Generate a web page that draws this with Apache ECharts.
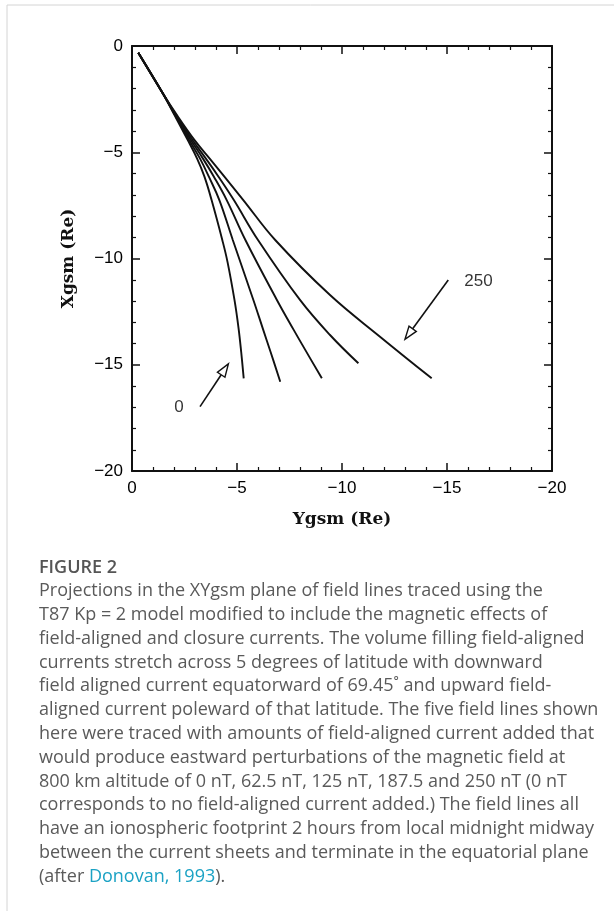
<!DOCTYPE html>
<html>
<head>
<meta charset="utf-8">
<script src="https://cdn.jsdelivr.net/npm/echarts@6/dist/echarts.min.js"></script>
<style>
    html, body { margin: 0; padding: 0; background: #fff; }
    #chart { width: 614px; height: 911px; }
</style>
</head>
<body>
<div id="chart"></div>
<script>
// field lines, points are [Ygsm, Xgsm] in Re
const curveNames = ['0 nT', '62.5 nT', '125 nT', '187.5 nT', '250 nT'];
const commonStart = [[-0.3, -0.32], [-1.45, -2.2]];
const curve0 = [[-2.05, -3.3], [-2.65, -4.42], [-3.1, -5.3], [-3.45, -6.15], [-3.79, -7.25], [-4.3, -9.13], [-4.55, -10.17], [-4.88, -11.95], [-5.07, -13.25], [-5.2, -14.4], [-5.32, -15.64]];
const curve1 = [[-2.08, -3.3], [-2.72, -4.42], [-3.24, -5.3], [-3.66, -6.15], [-4.16, -7.25], [-4.8, -9.13], [-5.78, -11.95], [-6.25, -13.36], [-6.6, -14.4], [-7.06, -15.8]];
const curve2 = [[-2.1, -3.3], [-2.8, -4.42], [-3.38, -5.3], [-3.9, -6.15], [-4.51, -7.25], [-5.4, -9.13], [-6.9, -11.95], [-7.7, -13.36], [-8.25, -14.3], [-9.04, -15.64]];
const curve3 = [[-2.13, -3.3], [-2.88, -4.42], [-3.52, -5.3], [-4.12, -6.15], [-4.85, -7.25], [-6.0, -9.13], [-8.0, -11.95], [-9.43, -13.6], [-10.78, -14.93]];
const curve4 = [[-2.17, -3.3], [-2.97, -4.42], [-3.7, -5.3], [-4.4, -6.15], [-5.3, -7.25], [-6.82, -9.13], [-9.43, -11.72], [-11.81, -13.68], [-14.27, -15.64]];
const curves = [curve0, curve1, curve2, curve3, curve4];

// annotation arrows (tail -> head) and their labels
const arrowTail = [[-3.24, -16.97], [-15.06, -11.01]];
const arrowHead = [[-4.59, -14.96], [-13.0, -13.8]];
const arrowLabels = ['0', '250'];
const arrowLabelPos = [[-2.24, -17.0], [-16.5, -11.06]];

const axisTicks = [0, -5, -10, -15, -20];

const caption = [
    'Projections in the XYgsm plane of field lines traced using the',
    'T87 Kp = 2 model modified to include the magnetic effects of',
    'field-aligned and closure currents. The volume filling field-aligned',
    'currents stretch across 5 degrees of latitude with downward',
    'field aligned current equatorward of 69.45\u02da and upward field-',
    'aligned current poleward of that latitude. The five field lines shown',
    'here were traced with amounts of field-aligned current added that',
    'would produce eastward perturbations of the magnetic field at',
    '800 km altitude of 0 nT, 62.5 nT, 125 nT, 187.5 and 250 nT (0 nT',
    'corresponds to no field-aligned current added.) The field lines all',
    'have an ionospheric footprint 2 hours from local midnight midway',
    'between the current sheets and terminate in the equatorial plane'
];

const chart = echarts.init(document.getElementById('chart'));

function tickLabel(v) {
    return v === 0 ? '0' : '\u2212' + Math.abs(v);
}

const labelFont = { fontFamily: 'Liberation Sans', fontSize: 17, color: '#000' };
const nameFont = { fontFamily: 'DejaVu Serif', fontWeight: 'bold', fontSize: 17, color: '#111' };
const capFont = 'Open Sans';
const capSize = 18;

function makeAxis(extra) {
    return Object.assign({
        type: 'value',
        min: axisTicks[axisTicks.length - 1],
        max: axisTicks[0],
        interval: 5,
        axisLine: { show: true, onZero: false, lineStyle: { color: '#111', width: 2 } },
        axisTick: { show: true, inside: true, length: 8, lineStyle: { color: '#111', width: 1.5 } },
        minorTick: { show: true, splitNumber: 5, length: 4, lineStyle: { color: '#111', width: 1.2 } },
        splitLine: { show: false },
        axisLabel: Object.assign({ formatter: tickLabel, margin: 9 }, labelFont)
    }, extra);
}

const lineSeries = curves.map((c, i) => ({
    name: curveNames[i],
    type: 'line',
    data: commonStart.concat(c),
    showSymbol: false,
    smooth: 0.4,
    lineStyle: { color: '#111', width: 1.9 },
    z: 3
}));

const option = {
    backgroundColor: '#fff',
    animation: false,
    grid: { left: 132, top: 46, width: 420, height: 425 },
    xAxis: [
        makeAxis({ position: 'bottom', inverse: true, name: 'Ygsm (Re)', nameLocation: 'middle', nameGap: 40, nameTextStyle: nameFont }),
        makeAxis({ position: 'top', inverse: true, axisLabel: { show: false } })
    ],
    yAxis: [
        makeAxis({ position: 'left', name: 'Xgsm (Re)', nameLocation: 'middle', nameRotate: 90, nameGap: 55, nameTextStyle: nameFont }),
        makeAxis({ position: 'right', axisLabel: { show: false } })
    ],
    series: lineSeries.concat([
        {
            type: 'custom',
            data: arrowTail.map((t, i) => [t[0], t[1], arrowHead[i][0], arrowHead[i][1]]),
            encode: { x: [0, 2], y: [1, 3] },
            renderItem: function (params, api) {
                const p0 = api.coord([api.value(0), api.value(1)]);
                const p1 = api.coord([api.value(2), api.value(3)]);
                const dx = p1[0] - p0[0], dy = p1[1] - p0[1];
                const len = Math.sqrt(dx * dx + dy * dy);
                const ux = dx / len, uy = dy / len;
                const hl = 13, hw = 4.5;
                const bx = p1[0] - ux * hl, by = p1[1] - uy * hl;
                return {
                    type: 'group',
                    children: [
                        { type: 'line', shape: { x1: p0[0], y1: p0[1], x2: bx, y2: by }, style: { stroke: '#111', lineWidth: 1.6 } },
                        {
                            type: 'polygon',
                            shape: { points: [p1, [bx - uy * hw, by + ux * hw], [bx + uy * hw, by - ux * hw]] },
                            style: { fill: '#fff', stroke: '#111', lineWidth: 1.4 }
                        }
                    ]
                };
            },
            z: 4
        },
        {
            type: 'scatter',
            data: arrowLabels.map((t, i) => ({ name: t, value: arrowLabelPos[i] })),
            symbolSize: 0,
            label: Object.assign({ show: true, position: 'inside', formatter: '{b}' }, labelFont),
            z: 4
        }
    ]),
    graphic: [
        { type: 'line', shape: { x1: 7, y1: 5, x2: 614, y2: 5 }, style: { stroke: '#d4d4d4', lineWidth: 1 } },
        { type: 'line', shape: { x1: 7, y1: 5, x2: 7, y2: 911 }, style: { stroke: '#d4d4d4', lineWidth: 1 } },
        {
            type: 'text', left: 39, top: 559,
            style: { text: 'FIGURE 2', fontFamily: capFont, fontSize: 18, fontWeight: 600, fill: '#555' }
        }
    ].concat(caption.map((t, i) => ({
        type: 'text', left: 39, top: 582 + i * 23.8,
        style: { text: t, fontFamily: capFont, fontSize: capSize, fill: '#5a5a5a' }
    }))).concat([{
        type: 'text', left: 39, top: 582 + caption.length * 23.8,
        style: {
            text: '{a|(after }{b|Donovan, 1993}{a|).}',
            rich: {
                a: { fontFamily: capFont, fontSize: capSize, fill: '#5a5a5a', color: '#5a5a5a' },
                b: { fontFamily: capFont, fontSize: capSize, fill: '#1ba2c4', color: '#1ba2c4' }
            }
        }
    }])
};

chart.setOption(option);
</script>
</body>
</html>
